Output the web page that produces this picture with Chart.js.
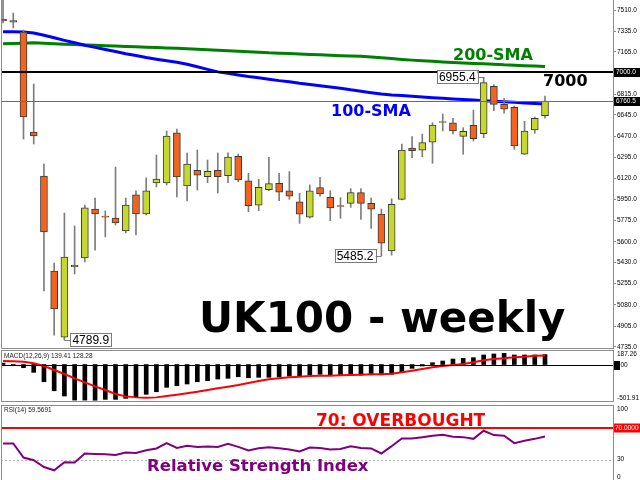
<!DOCTYPE html>
<html>
<head>
<meta charset="utf-8">
<script src="https://cdn.jsdelivr.net/npm/chart.js@4.4.1/dist/chart.umd.min.js"></script>
<style>
html, body { margin:0; padding:0; background:#fff; width:640px; height:480px; overflow:hidden; }
canvas { position:absolute; left:0; }
#c1 { top:0; }
#c2 { top:346px; }
#c3 { top:401px; }
</style>
</head>
<body>
<canvas id="c1" width="640" height="354"></canvas>
<canvas id="c2" width="640" height="59"></canvas>
<canvas id="c3" width="640" height="82"></canvas>
<script>
// weekly candles, UK100
const opens  = [7436, 7422, 7329, 6505, 6142, 5359, 4815, 5392, 5467, 5870,
                5806, 5796, 5689, 5986, 5829, 6085, 6085, 6497, 6060, 6189,
                6136, 6189, 6145, 6305, 6103, 5901, 6029, 6082, 6021, 5930,
                5802, 6046, 5967, 5894, 5917, 6005, 5917, 5829, 5524, 5950,
                6373, 6356, 6420, 6583, 6581, 6469, 6560, 6491, 6881, 6733,
                6708, 6323, 6521, 6639];
const highs  = [7590, 7485, 7345, 6900, 6241, 5425, 5837, 5730, 5903, 5961,
                5854, 6216, 5961, 6019, 6126, 6315, 6513, 6529, 6332, 6356,
                6274, 6332, 6334, 6323, 6164, 6115, 6296, 6164, 6178, 6000,
                6068, 6131, 6021, 5963, 6038, 6038, 5961, 5870, 5955, 6406,
                6466, 6488, 6581, 6653, 6618, 6540, 6686, 6955.4, 6895, 6782,
                6719, 6593, 6628, 6801];
const lows   = [7403, 7362, 6447, 6406, 5195, 4830, 4789.9, 5335, 5434, 5532,
                5640, 5738, 5673, 5656, 5821, 6052, 6068, 5969, 5936, 6027,
                6087, 6002, 6087, 6095, 5848, 5856, 6021, 5939, 5950, 5752,
                5795, 5977, 5774, 5794, 5884, 5785, 5711, 5485.2, 5490, 5945,
                6293, 6301, 6247, 6513, 6488, 6321, 6431, 6458, 6680, 6659,
                6362, 6320, 6494, 6618];
const closes = [7419, 7409, 6628, 6472, 5681, 5046, 5475, 5409, 5879, 5829,
                5803, 5755, 5903, 5829, 6019, 6117, 6472, 6134, 6241, 6148,
                6181, 6136, 6299, 6109, 5897, 6049, 6079, 6008, 5977, 5827,
                6021, 5994, 5879, 5891, 6005, 5917, 5868, 5588, 5909, 6356,
                6351, 6417, 6562, 6586, 6513, 6511, 6450, 6911, 6733, 6692,
                6389, 6513, 6618, 6760.5];
const sma100 = [7331, 7330, 7329, 7320, 7302, 7281, 7260, 7240, 7219, 7202,
                7185, 7168, 7150, 7135, 7118, 7104, 7091, 7079, 7063, 7042,
                7021, 7000, 6988, 6975, 6962, 6951, 6940, 6928, 6918, 6906,
                6896, 6886, 6876, 6865, 6852, 6841, 6829, 6818, 6810, 6805,
                6799, 6793, 6787, 6782, 6777, 6772, 6768, 6763, 6758, 6753,
                6749, 6744, 6740, 6735];
const sma200 = [7231, 7234, 7237, 7241, 7236, 7232, 7228, 7225, 7222, 7219,
                7216, 7213, 7210, 7207, 7204, 7200, 7197, 7194, 7190, 7187,
                7183, 7179, 7175, 7171, 7166, 7162, 7157, 7154, 7151, 7147,
                7144, 7141, 7138, 7134, 7131, 7128, 7122, 7116, 7110, 7103,
                7097, 7092, 7087, 7082, 7078, 7074, 7070, 7067, 7063, 7058,
                7055, 7051, 7048, 7044];
const priceTicks = [7510, 7335, 7165, 6815, 6645, 6470, 6295, 6120, 5950,
                    5775, 5600, 5430, 5255, 5080, 4905, 4735];
const roundLevel = 7000;
const lastPrice = 6760.5;
// candles that get a price label: [index, which price, side of the box]
const callouts = [[47, 'high', 'left'], [37, 'low', 'left'], [6, 'low', 'right']];

const macdHist   = [20, -12, -45, -110, -242, -369, -443, -500, -500, -501.91,
                    -490, -490, -476, -453, -419, -383, -321, -298, -274, -242,
                    -228, -204, -194, -172, -186, -180, -180, -176, -162, -162,
                    -148, -138, -150, -150, -150, -148, -145, -145, -138, -101,
                    -54, -21, 25, 49, 77, 87, 96, 134, 148, 157,
                    134, 134, 134, 139.41];
const macdSignal = [49, 45, 39, 17, -21, -77, -134, -194, -251, -307,
                    -359, -415, -448, -462, -467, -462, -443, -425, -405, -383,
                    -359, -335, -312, -288, -260, -232, -208, -194, -180, -171,
                    -162, -157, -157, -152, -148, -143, -138, -138, -129, -110,
                    -87, -63, -39, -21, -7, 7, 31, 59, 77, 87,
                    101, 110, 124, 128.28];
const macdTicks = [187.26, -501.91];

const rsi = [50.7, 50.7, 32.6, 29.2, 20.5, 16.3, 26.6, 26.2, 37.8, 37.3,
             36.9, 36.0, 39.1, 38.6, 42.1, 44.3, 51.1, 45.0, 47.6, 46.3,
             46.8, 46.3, 50.2, 46.3, 41.7, 44.6, 45.8, 44.6, 43.0, 40.4,
             45.5, 44.8, 43.0, 43.7, 47.2, 45.0, 44.3, 37.8, 47.2, 57.2,
             57.2, 58.8, 60.5, 61.8, 59.2, 58.8, 56.6, 67.0, 61.4, 60.5,
             51.1, 54.1, 56.6, 59.5691];
const rsiTicks = [100, 30, 0];
const rsiOverbought = 70;
const rsiMid = 30;

const X_MIN = -0.2, X_MAX = 59.65;
const BULL = '#c5d82f', BEAR = '#f1631f';
const FRAME = '#8c8c8c';
const SMALL = '6.5px "Liberation Sans"';

const idx = opens.map((v, i) => i);
const xScale = { type:'linear', min:X_MIN, max:X_MAX, display:false, offset:false };
const base = {
  responsive:false, animation:false, devicePixelRatio:1, events:[],
  plugins:{ legend:{display:false}, tooltip:{enabled:false} }
};

function sideLabel(ctx, a, ys, v, text, m1, m2) {
  let y = ys.getPixelForValue(v);
  y = Math.min(Math.max(y, a.top + m1), a.bottom - m2);
  ctx.fillText(text, 617, y);
}

function priceBox(ctx, x, y, text, side) {
  ctx.font = '12px "Liberation Sans"';
  const w = ctx.measureText(text).width + 4;
  const bx = side == 'left' ? x - 6 - w : x + 6;
  const by = Math.round(y) - 7;
  ctx.strokeStyle = '#7a7a7a'; ctx.lineWidth = 1;
  ctx.beginPath();
  ctx.moveTo(side == 'left' ? bx + w : bx, Math.round(y) + 0.5);
  ctx.lineTo(Math.round(x) + 0.5, Math.round(y) + 0.5);
  ctx.stroke();
  ctx.fillStyle = '#fff';
  ctx.fillRect(bx, by, w, 14);
  ctx.strokeRect(Math.round(bx) + 0.5, by + 0.5, Math.round(w), 13);
  ctx.fillStyle = '#000';
  ctx.textBaseline = 'middle'; ctx.textAlign = 'left';
  ctx.fillText(text, bx + 2, by + 7.5);
}

const topDeco = {
  id:'topDeco',
  afterDatasetsDraw(chart) {
    const ctx = chart.ctx, a = chart.chartArea, xs = chart.scales.x, ys = chart.scales.y;
    ctx.save();
    let y = Math.round(ys.getPixelForValue(roundLevel));
    ctx.strokeStyle = '#000'; ctx.lineWidth = 2;
    ctx.beginPath(); ctx.moveTo(a.left, y); ctx.lineTo(a.right, y); ctx.stroke();
    y = Math.round(ys.getPixelForValue(lastPrice)) + 0.5;
    ctx.strokeStyle = '#5a5af5'; ctx.lineWidth = 1;
    ctx.beginPath(); ctx.moveTo(a.left, y); ctx.lineTo(a.right, y); ctx.stroke();

    ctx.strokeStyle = FRAME;
    ctx.beginPath();
    ctx.moveTo(a.left + 0.5, a.top); ctx.lineTo(a.left + 0.5, a.bottom + 0.5); ctx.lineTo(a.right, a.bottom + 0.5);
    ctx.stroke();

    callouts.forEach(c => {
      const i = c[0];
      const v = c[1] == 'high' ? highs[i] : lows[i];
      priceBox(ctx, xs.getPixelForValue(i), ys.getPixelForValue(v), v.toFixed(1), c[2]);
    });
    ctx.restore();
  },
  afterDraw(chart) {
    const ctx = chart.ctx, ys = chart.scales.y;
    ctx.save();
    ctx.font = SMALL; ctx.textBaseline = 'middle'; ctx.textAlign = 'left';
    [roundLevel, lastPrice].forEach(v => {
      const y = Math.round(ys.getPixelForValue(v));
      ctx.fillStyle = '#000';
      ctx.fillRect(614, y - 4, 26, 9);
      ctx.fillStyle = '#fff';
      ctx.fillText(v.toFixed(1), 616, y + 0.5);
    });
    ctx.textBaseline = 'alphabetic';
    ctx.font = 'bold 42px "DejaVu Sans"';
    ctx.fillStyle = '#000';
    ctx.fillText('UK100 - weekly', 199, 332);
    ctx.font = 'bold 16px "DejaVu Sans"';
    ctx.fillStyle = '#008000';
    ctx.fillText('200-SMA', 453, 60);
    ctx.fillStyle = '#000';
    ctx.fillText('7000', 543, 86);
    ctx.fillStyle = '#0000ff';
    ctx.fillText('100-SMA', 331, 116);
    ctx.restore();
  }
};

new Chart(document.getElementById('c1'), {
  type:'bar',
  data:{
    datasets:[
      { type:'bar', data: idx.map(i => ({x:i, y:[opens[i], closes[i]]})),
        backgroundColor: idx.map(i => closes[i] >= opens[i] ? BULL : BEAR),
        borderColor:'#3a3a3a', borderWidth:1, borderSkipped:false,
        barThickness:7, minBarLength:1, grouped:false, order:0 },
      { type:'bar', data: idx.map(i => ({x:i, y:[lows[i], highs[i]]})),
        backgroundColor:'#7d7d7d', borderWidth:0, barThickness:1, grouped:false, order:1 },
      { type:'line', data: idx.map(i => ({x:i, y:sma100[i]})),
        borderColor:'#0000ff', borderWidth:3, pointRadius:0, order:2 },
      { type:'line', data: idx.map(i => ({x:i, y:sma200[i]})),
        borderColor:'#008000', borderWidth:3, pointRadius:0, order:3 }
    ]
  },
  options: Object.assign({}, base, {
    layout:{ padding:{left:1, right:0, top:0, bottom:6} },
    scales:{
      x: xScale,
      y: {
        position:'right', min:4724.9, max:7592.4,
        afterBuildTicks: s => { s.ticks = priceTicks.map(v => ({value:v})); },
        afterFit: s => { s.width = 27; s.paddingTop = 0; s.paddingBottom = 0; },
        ticks:{ callback: v => v.toFixed(1), autoSkip:false, padding:1, color:'#000',
                font:{ family:'Liberation Sans', size:6.5 } },
        grid:{ drawOnChartArea:false, tickLength:3, color:'#8c8c8c' },
        border:{ color:'#8c8c8c' }
      }
    }
  }),
  plugins:[topDeco]
});

const macdDeco = {
  id:'macdDeco',
  afterDatasetsDraw(chart) {
    const ctx = chart.ctx, a = chart.chartArea, ys = chart.scales.y;
    ctx.save();
    const y0 = Math.round(ys.getPixelForValue(0)) + 0.5;
    ctx.strokeStyle = '#000'; ctx.lineWidth = 1;
    ctx.beginPath(); ctx.moveTo(a.left, y0); ctx.lineTo(a.right, y0); ctx.stroke();
    ctx.strokeStyle = FRAME;
    ctx.strokeRect(a.left + 0.5, a.top + 0.5, a.width, a.height - 1);
    ctx.font = SMALL; ctx.fillStyle = '#222'; ctx.textBaseline = 'middle'; ctx.textAlign = 'left';
    ctx.fillText('MACD(12,26,9) ' + macdHist[macdHist.length - 1].toFixed(2) + ' ' +
                 macdSignal[macdSignal.length - 1].toFixed(2), 4, a.top + 6.5);
    ctx.fillStyle = '#000';
    macdTicks.forEach(v => sideLabel(ctx, a, ys, v, v.toFixed(2), 4, 4));
    ctx.fillRect(614, y0 - 4.5, 6, 9);
    ctx.fillText('0.00', 615, y0);
    ctx.restore();
  }
};

new Chart(document.getElementById('c2'), {
  type:'bar',
  data:{
    datasets:[
      { type:'line', data: idx.map(i => ({x:i, y:macdSignal[i]})),
        borderColor:'#ff0000', borderWidth:2, pointRadius:0, order:0 },
      { type:'bar', data: idx.map(i => ({x:i, y:macdHist[i]})),
        backgroundColor:'#000', barThickness:4, grouped:false, order:1 }
    ]
  },
  options: Object.assign({}, base, {
    layout:{ padding:{left:1, right:27, top:4, bottom:3} },
    scales:{ x: xScale, y:{ display:false, min:-527, max:204 } }
  }),
  plugins:[macdDeco]
});

const rsiDeco = {
  id:'rsiDeco',
  beforeDatasetsDraw(chart) {
    const ctx = chart.ctx, a = chart.chartArea, ys = chart.scales.y;
    ctx.save();
    const y30 = Math.round(ys.getPixelForValue(rsiMid)) + 0.5;
    ctx.strokeStyle = '#b4b4b4'; ctx.lineWidth = 1; ctx.setLineDash([2, 2]);
    ctx.beginPath(); ctx.moveTo(a.left, y30); ctx.lineTo(a.right, y30); ctx.stroke();
    ctx.restore();
  },
  afterDatasetsDraw(chart) {
    const ctx = chart.ctx, a = chart.chartArea, ys = chart.scales.y;
    ctx.save();
    const y70 = Math.round(ys.getPixelForValue(rsiOverbought));
    ctx.strokeStyle = '#ff0000'; ctx.lineWidth = 2;
    ctx.beginPath(); ctx.moveTo(a.left, y70); ctx.lineTo(a.right, y70); ctx.stroke();
    ctx.strokeStyle = FRAME; ctx.lineWidth = 1;
    ctx.strokeRect(a.left + 0.5, a.top + 0.5, a.width, a.height + 4);
    ctx.font = SMALL; ctx.fillStyle = '#222'; ctx.textBaseline = 'middle'; ctx.textAlign = 'left';
    ctx.fillText('RSI(14) ' + rsi[rsi.length - 1].toFixed(4), 4, a.top + 5.5);
    ctx.fillStyle = '#000';
    rsiTicks.forEach(v => sideLabel(ctx, a, ys, v, String(v), 4, 6));
    ctx.fillStyle = '#ff0000';
    ctx.fillRect(614, y70 - 4.5, 26, 9);
    ctx.fillStyle = '#fff';
    ctx.fillText(rsiOverbought.toFixed(4), 615, y70);
    ctx.textBaseline = 'alphabetic';
    ctx.font = 'bold 17px "DejaVu Sans"';
    ctx.fillStyle = '#ff0000';
    ctx.fillText('70: OVERBOUGHT', 316, 25);
    ctx.font = 'bold 16.5px "DejaVu Sans"';
    ctx.fillStyle = '#800080';
    ctx.fillText('Relative Strength Index', 147, 70);
    ctx.restore();
  }
};

new Chart(document.getElementById('c3'), {
  type:'line',
  data:{
    datasets:[
      { data: idx.map(i => ({x:i, y:rsi[i]})),
        borderColor:'#800080', borderWidth:2, pointRadius:0 }
    ]
  },
  options: Object.assign({}, base, {
    layout:{ padding:{left:1, right:27, top:4, bottom:0} },
    scales:{ x: xScale, y:{ display:false, min:0, max:100 } }
  }),
  plugins:[rsiDeco]
});
</script>
</body>
</html>
